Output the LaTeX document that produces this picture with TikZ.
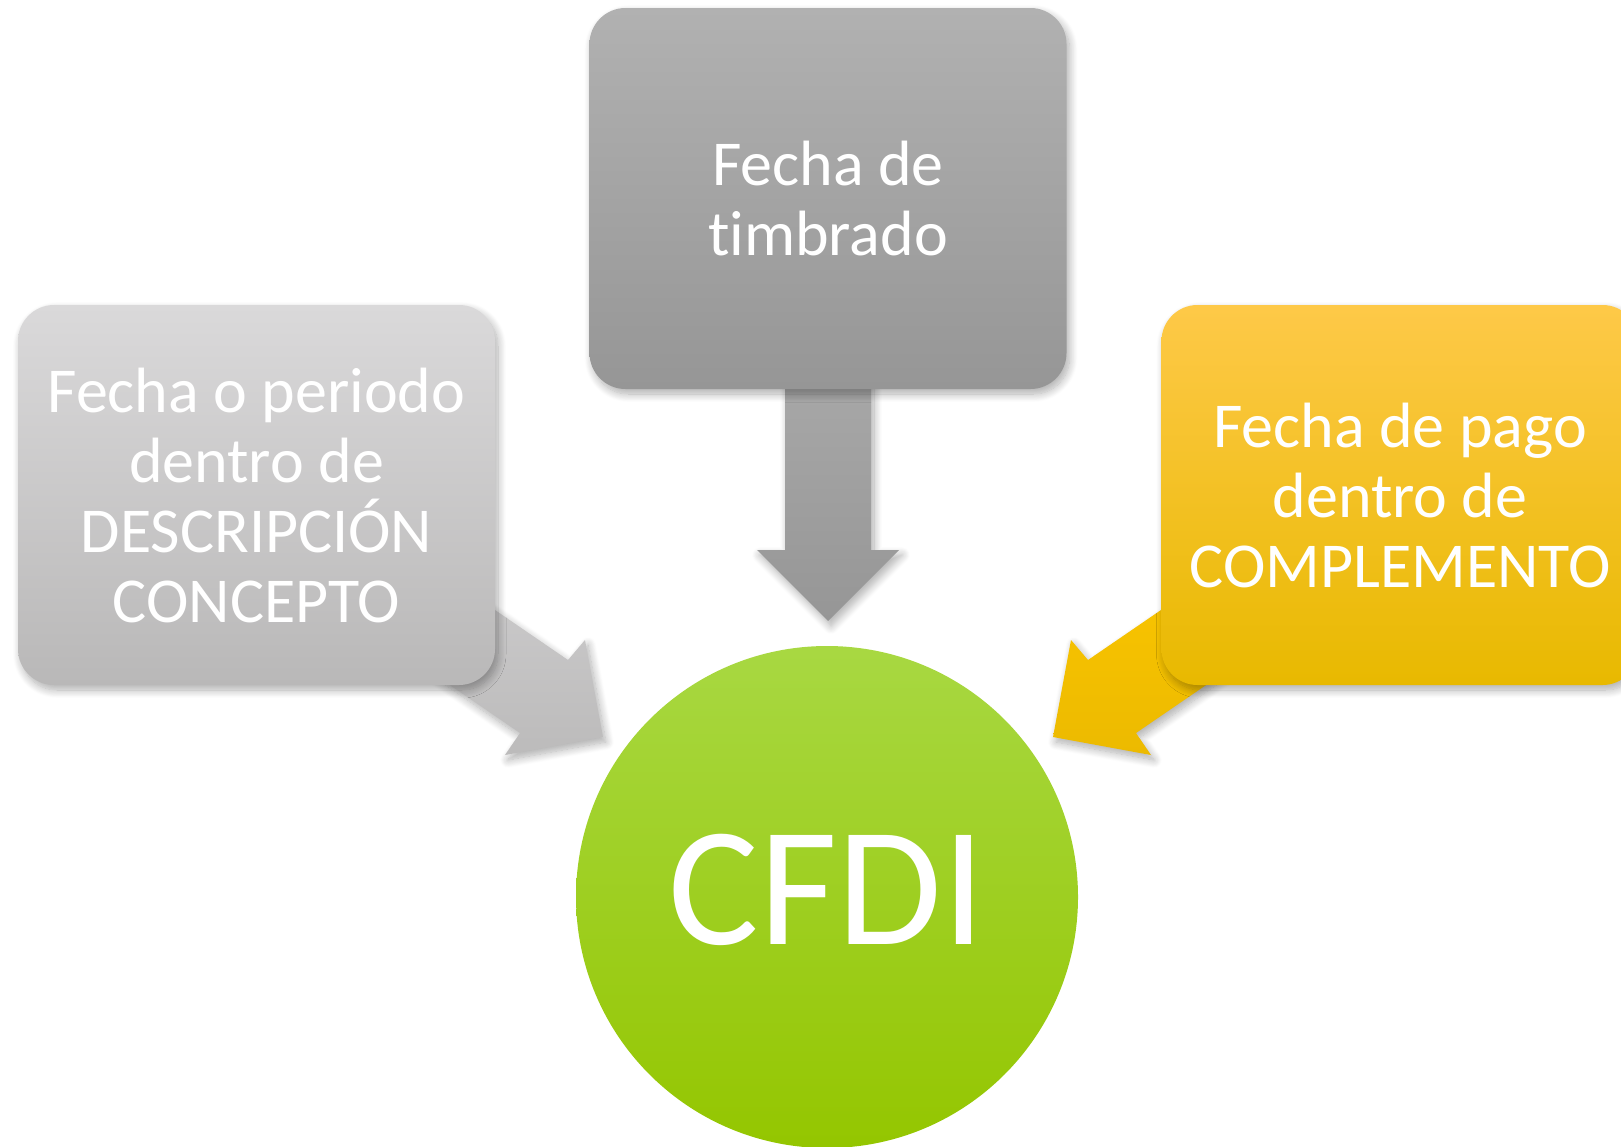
\documentclass[tikz,border=0pt]{standalone}
\usepackage{fontspec}
\setmainfont{Carlito}[Ligatures={NoCommon,NoRequired,NoContextual}]
\usetikzlibrary{shadows.blur}
\definecolor{lgTop}{RGB}{218,217,218}
\definecolor{lgBot}{RGB}{185,184,184}
\definecolor{laTop}{RGB}{206,205,206}
\definecolor{laBot}{RGB}{188,187,187}
\definecolor{tgTop}{RGB}{177,177,177}
\definecolor{tgBot}{RGB}{150,150,150}
\definecolor{daTop}{RGB}{168,168,168}
\definecolor{daBot}{RGB}{150,150,150}
\definecolor{yTop}{RGB}{254,201,72}
\definecolor{yMid}{RGB}{254,200,0}
\definecolor{yBot}{RGB}{232,185,0}
\definecolor{yaTop}{RGB}{252,198,0}
\definecolor{yaBot}{RGB}{236,186,0}
\definecolor{gTop}{RGB}{168,216,66}
\definecolor{gBot}{RGB}{148,198,0}
\begin{document}
\begin{tikzpicture}[x=0.5pt,y=-0.5pt,
  shd/.style={blur shadow={shadow xshift=1.5pt,shadow yshift=-2.5pt,shadow blur radius=4pt,shadow blur steps=12,shadow opacity=32}},
  box/.style={rectangle,rounded corners=18pt,minimum width=238.5pt,minimum height=190pt,
    text=white,align=center,font=\fontsize{32}{35}\selectfont,shd},
  blockarrow/.style={shd}]
\useasboundingbox (0,0) rectangle (1621,1146);
\clip (0,0) rectangle (1621,1146);
% arrows (behind boxes)
\path[blockarrow,top color=laTop,bottom color=laBot]
  (403,547) -- (568,660) -- (585,640) -- (603,737) -- (505,755) -- (520,733) -- (355,620) -- cycle;
\path[blockarrow,top color=yaTop,bottom color=yaBot]
  (1253,547) -- (1088,660) -- (1071,640) -- (1053,737) -- (1151,755) -- (1136,733) -- (1301,620) -- cycle;
\path[blockarrow,top color=daTop,bottom color=daBot]
  (785,370) -- (785,550) -- (757,550) -- (828,621) -- (899,550) -- (871,550) -- (871,370) -- cycle;
% boxes
\node[box,top color=lgTop,bottom color=lgBot] (left) at (256.5,495)
  {Fecha o periodo\\dentro de\\DESCRIPCIÓN\\CONCEPTO};
\node[box,top color=tgTop,bottom color=tgBot,minimum height=190.5pt] (top) at (828,198.5)
  {Fecha de\\timbrado};
\node[box,top color=yTop,middle color=yMid,bottom color=yBot] (right) at (1400,495)
  {Fecha de pago\\dentro de\\COMPLEMENTO};
% circle
\coordinate (cfdi) at (827,897);
\shade[top color=gTop,bottom color=gBot] (cfdi) circle[radius=251];
\node[text=white,font=\fontsize{85}{100}\selectfont,inner sep=0pt] (cfdilabel) at (827,890) {CFDI};
\end{tikzpicture}
\end{document}
